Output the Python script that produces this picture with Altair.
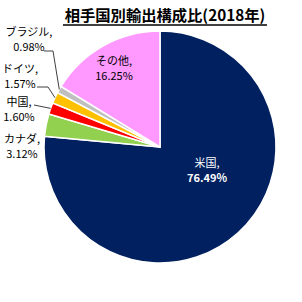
import math
import altair as alt
import pandas as pd

# ---- data ----
countries = ["米国", "カナダ", "中国", "ドイツ", "ブラジル", "その他"]
shares = [76.49, 3.12, 1.60, 1.57, 0.98, 16.25]
colors = ["#002060", "#92D050", "#FF0000", "#FFC000", "#BFBFBF", "#FF99FF"]
title_text = "相手国別輸出構成比(2018年)"

# ---- layout ----
W = H = 302
CX, CY, R = 160, 147, 116
FONT = "Noto Sans CJK JP"
# label centre (x, y of first line), line gap, text colour, bold percent
label_layout = {
    "米国": (207, 164, 15, "white", "bold"),
    "カナダ": (22, 140, 15, "black", "normal"),
    "中国": (19, 103, 15, "black", "normal"),
    "ドイツ": (20, 70, 15, "black", "normal"),
    "ブラジル": (29, 33, 15, "black", "normal"),
    "その他": (114, 62, 15, "black", "normal"),
}
# leader lines: label-side points, ending at the slice edge
leader_layout = {
    "ブラジル": [(44, 51), (53, 51)],
    "ドイツ": [(37, 87), (48, 87)],
    "中国": [(34, 105)],
}

df = pd.DataFrame({"country": countries, "share": shares, "order": list(range(len(countries)))})

# mid angles of slices (clockwise from 12 o'clock)
total = sum(shares)
mid = {}
acc = 0.0
for c, s in zip(countries, shares):
    mid[c] = (acc + s / 2) / total * 2 * math.pi
    acc += s

rows = []
for c, s in zip(countries, shares):
    x, y, gap, col, w2 = label_layout[c]
    rows.append({"t": c + ",", "x": x, "y": y, "col": col, "w": "normal"})
    rows.append({"t": f"{s:.2f}%", "x": x, "y": y + gap, "col": col, "w": w2})
labels = pd.DataFrame(rows)

lrows = []
for c, pts in leader_layout.items():
    i = 0
    for (px, py) in pts:
        lrows.append({"c": c, "i": i, "x": px, "y": py})
        i += 1
    a = mid[c]
    lrows.append({"c": c, "i": i, "x": CX + R * math.sin(a), "y": CY - R * math.cos(a)})
leaders = pd.DataFrame(lrows)

pie = alt.Chart(df).mark_arc(outerRadius=R, stroke="white", strokeWidth=1.5).encode(
    theta=alt.Theta("share:Q", stack=True),
    color=alt.Color("country:N", scale=alt.Scale(domain=countries, range=colors), legend=None),
    order=alt.Order("order:Q"),
    x=alt.value(CX),
    y=alt.value(CY),
)

lead = alt.Chart(leaders).mark_line(color="#404040", strokeWidth=1).encode(
    x=alt.X("x:Q", scale=None),
    y=alt.Y("y:Q", scale=None),
    detail="c:N",
    order="i:Q",
)

def text_layer(weight, colour):
    sub = labels[(labels["w"] == weight) & (labels["col"] == colour)]
    return alt.Chart(sub).mark_text(
        font=FONT, fontSize=11, fontWeight=weight, color=colour,
        align="center", baseline="middle",
    ).encode(x=alt.X("x:Q", scale=None), y=alt.Y("y:Q", scale=None), text="t:N")

txt_black = text_layer("normal", "black")
txt_white = text_layer("normal", "white")
txt_white_b = text_layer("bold", "white")

title = alt.Chart(pd.DataFrame({"t": [title_text]})).mark_text(
    font=FONT, fontSize=15.3, fontWeight="bold", color="black",
    align="center", baseline="middle",
).encode(x=alt.value(165), y=alt.value(16), text="t:N")

underline = alt.Chart(pd.DataFrame({"t": [title_text]})).mark_rule(
    color="black", strokeWidth=1.3
).encode(x=alt.value(63), x2=alt.value(267), y=alt.value(25))

chart = alt.layer(pie, lead, txt_black, txt_white, txt_white_b, title, underline).properties(
    width=W, height=H, autosize="none", padding=0
).configure_view(stroke=None)

chart.save("out.html", embed_options={"renderer": "svg", "actions": False})
